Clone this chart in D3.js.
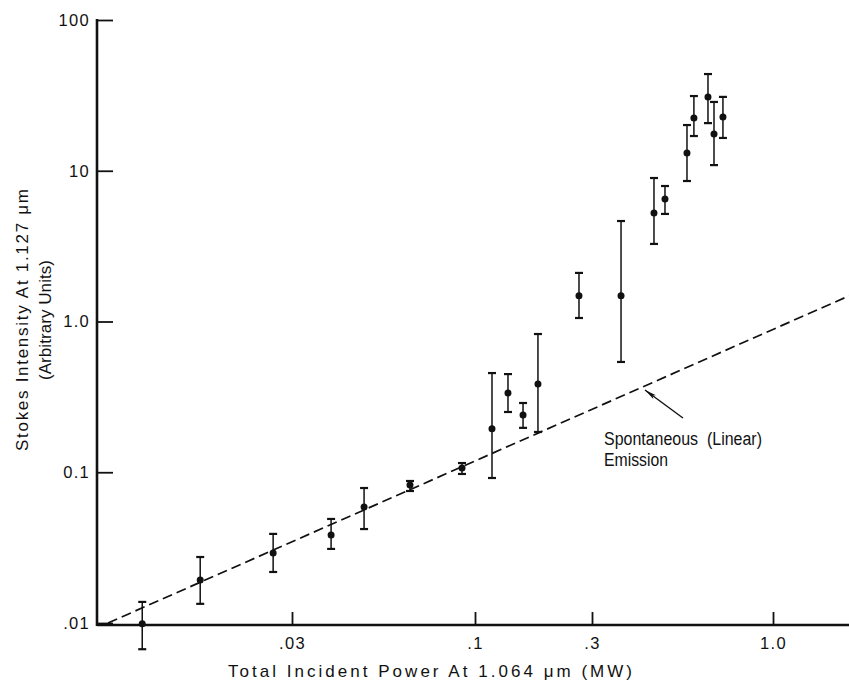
<!DOCTYPE html>
<html>
<head>
<meta charset="utf-8">
<script src="https://cdn.jsdelivr.net/npm/d3@7"></script>
<style>
  html, body { margin: 0; padding: 0; background: #fff; }
  svg { display: block; }
  text { font-family: "Liberation Sans", Arial, sans-serif; fill: #111; white-space: pre; }
</style>
</head>
<body>
<script>
// ---- Data ----
const xTickValues = [0.03, 0.1, 0.3, 1.0];
const xTickLabels = [".03", ".1", ".3", "1.0"];
const yTickValues = [0.01, 0.1, 1, 10, 100];
const yTickLabels = [".01", "0.1", "1.0", "10", "100"];

// Total incident power (MW)
const power     = [0.0112, 0.0164, 0.0265, 0.0388, 0.0482, 0.0652, 0.0918, 0.1173, 0.1363, 0.1570,
                   0.1806, 0.2655, 0.3639, 0.4531, 0.4875, 0.5643, 0.5909, 0.6489, 0.6754, 0.7168];
// Stokes intensity (arbitrary units)
const intensity = [0.0099, 0.0193, 0.0291, 0.0384, 0.0588, 0.0823, 0.1067, 0.194, 0.336, 0.240,
                   0.385, 1.48, 1.48, 5.25, 6.49, 13.1, 22.4, 30.9, 17.5, 22.7];
const errLow    = [0.0067, 0.0134, 0.0218, 0.0310, 0.0420, 0.0751, 0.0974, 0.0916, 0.251, 0.197,
                   0.185, 1.055, 0.539, 3.27, 5.17, 8.55, 17.0, 20.7, 10.9, 16.5];
const errHigh   = [0.0138, 0.0274, 0.0390, 0.0490, 0.0786, 0.0875, 0.1151, 0.455, 0.448, 0.288,
                   0.826, 2.10, 4.64, 8.95, 7.92, 20.1, 31.3, 43.8, 28.6, 30.9];

// Spontaneous (linear) emission reference line
const linePower = [0.00894, 1.658];
const lineIntensity = [0.01, 1.48];

const xTitle = "Total Incident Power At 1.064 \u03bcm (MW)";
const yTitle1 = "Stokes Intensity At 1.127 \u03bcm";
const yTitle2 = "(Arbitrary Units)";
const noteLines = ["Spontaneous  (Linear)", "Emission"];

// ---- Layout ----
const W = 849, H = 689;
const axisX = 97, axisY = 625, axisRight = 849, axisTop = 20;

const svg = d3.select("body").append("svg").attr("width", W).attr("height", H);
svg.append("rect").attr("width", W).attr("height", H).attr("fill", "#fff");

// Piecewise log scale matching the figure's tick placement
const x = d3.scaleLog().domain(xTickValues).range([292, 475, 592, 773]);
const y = d3.scaleLog().domain([0.01, 100]).range([623, 20]);

// Axis lines
svg.append("line").attr("x1", axisX).attr("x2", axisRight).attr("y1", axisY).attr("y2", axisY)
  .attr("stroke", "#111").attr("stroke-width", 2.4);
svg.append("line").attr("x1", axisX).attr("x2", axisX).attr("y1", axisTop - 1).attr("y2", axisY + 1)
  .attr("stroke", "#111").attr("stroke-width", 2.6);

const tickFont = "'Liberation Sans', Arial, sans-serif";

// X axis ticks
const xAxis = d3.axisBottom(x).tickValues(xTickValues)
  .tickFormat((d, i) => xTickLabels[i]).tickSizeInner(-13).tickSizeOuter(0).tickPadding(12);
const gx = svg.append("g").attr("transform", `translate(0,${axisY})`).call(xAxis);
gx.select(".domain").remove();
gx.selectAll(".tick line").attr("stroke", "#111").attr("stroke-width", 1.8);
gx.selectAll(".tick text").attr("font-size", 16.5).attr("letter-spacing", "1.3px")
  .style("font-family", tickFont).attr("fill", "#111");

// Y axis ticks
const yAxis = d3.axisLeft(y).tickValues(yTickValues)
  .tickFormat((d, i) => yTickLabels[i]).tickSizeInner(-16).tickSizeOuter(0).tickPadding(7);
const gy = svg.append("g").attr("transform", `translate(${axisX},0)`).call(yAxis);
gy.select(".domain").remove();
gy.selectAll(".tick line").attr("stroke", "#111").attr("stroke-width", 1.8);
gy.selectAll(".tick text").attr("font-size", 16.5).attr("letter-spacing", "1.3px")
  .style("font-family", tickFont).attr("fill", "#111");

// Dashed linear-emission line
svg.append("path")
  .datum(linePower.map((p, i) => [p, lineIntensity[i]]))
  .attr("d", d3.line().x(d => x(d[0])).y(d => y(d[1])))
  .attr("fill", "none").attr("stroke", "#111").attr("stroke-width", 1.7)
  .attr("stroke-dasharray", "10,5");

// Error bars
const pts = power.map((p, i) => ({ p, v: intensity[i], lo: errLow[i], hi: errHigh[i] }));
const eb = svg.append("g");
eb.selectAll("line.bar").data(pts).join("line").attr("class", "bar")
  .attr("x1", d => x(d.p)).attr("x2", d => x(d.p))
  .attr("y1", d => y(d.lo)).attr("y2", d => y(d.hi))
  .attr("stroke", "#111").attr("stroke-width", 1.5);
["lo", "hi"].forEach(k => {
  eb.selectAll("line.cap" + k).data(pts).join("line").attr("class", "cap" + k)
    .attr("x1", d => x(d.p) - 4).attr("x2", d => x(d.p) + 4)
    .attr("y1", d => y(d[k])).attr("y2", d => y(d[k]))
    .attr("stroke", "#111").attr("stroke-width", 2.2);
});
// Points
svg.append("g").selectAll("circle").data(pts).join("circle")
  .attr("cx", d => x(d.p)).attr("cy", d => y(d.v)).attr("r", 3.5).attr("fill", "#111");

// Annotation arrow
svg.append("defs").append("marker")
  .attr("id", "arrow").attr("viewBox", "0 0 12 6").attr("refX", 12).attr("refY", 3)
  .attr("markerWidth", 12).attr("markerHeight", 6).attr("markerUnits", "userSpaceOnUse")
  .attr("orient", "auto")
  .append("path").attr("d", "M0,0.8 L12,3 L0,5.2 L2.5,3 Z").attr("fill", "#111");
svg.append("line")
  .attr("x1", x(0.5494)).attr("y1", y(0.2291))
  .attr("x2", x(0.4267)).attr("y2", y(0.3513))
  .attr("stroke", "#111").attr("stroke-width", 1.4).attr("marker-end", "url(#arrow)");

const noteX = x(0.3249);
svg.append("text").attr("x", noteX).attr("y", 445).attr("font-size", 18)
  .attr("xml:space", "preserve")
  .attr("textLength", 158).attr("lengthAdjust", "spacingAndGlyphs").text(noteLines[0]);
svg.append("text").attr("x", noteX).attr("y", 466).attr("font-size", 18)
  .attr("textLength", 64).attr("lengthAdjust", "spacingAndGlyphs").text(noteLines[1]);

// Axis titles
svg.append("text").attr("x", 430).attr("y", 677).attr("text-anchor", "middle")
  .attr("font-size", 17).attr("textLength", 404).attr("lengthAdjust", "spacing").text(xTitle);

svg.append("text").attr("transform", "translate(28,320) rotate(-90)").attr("text-anchor", "middle")
  .attr("font-size", 17).attr("textLength", 262).attr("lengthAdjust", "spacing").text(yTitle1);
svg.append("text").attr("transform", "translate(51,320) rotate(-90)").attr("text-anchor", "middle")
  .attr("font-size", 17).attr("textLength", 120).attr("lengthAdjust", "spacing").text(yTitle2);
</script>
</body>
</html>
